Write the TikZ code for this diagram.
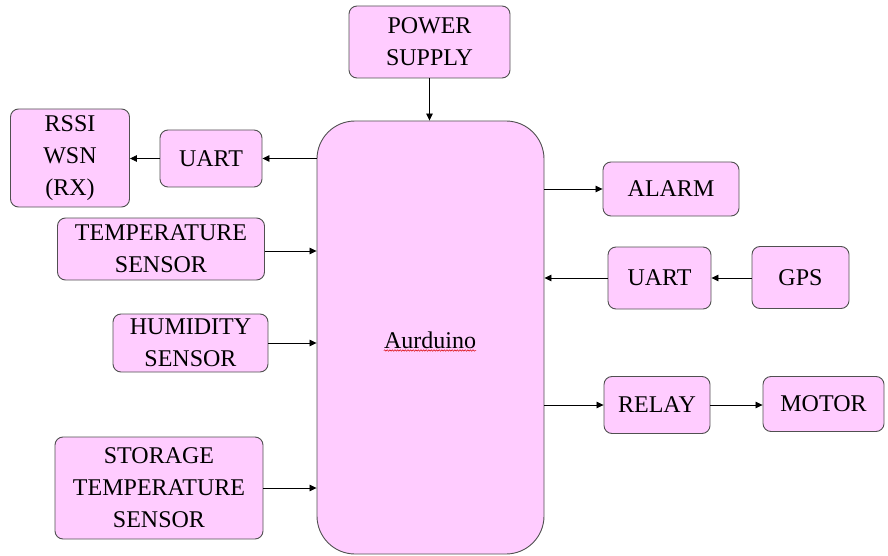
\documentclass[tikz,border=0pt]{standalone}
\usepackage{fontspec}
\setmainfont{Liberation Serif}
\usetikzlibrary{arrows.meta,decorations.pathmorphing}
\definecolor{pinkfill}{RGB}{255,204,255}
\definecolor{bordergray}{RGB}{80,80,80}
\tikzset{
  box/.style={draw=bordergray, fill=pinkfill, rounded corners=8pt, line width=0.9pt,
    align=center, inner sep=0pt, font=\fontsize{24}{32}\selectfont},
  arr/.style={draw=black, line width=0.8pt, -{Triangle[length=7pt,width=6.5pt]}},
}
\begin{document}
\begin{tikzpicture}[x=1pt,y=-1pt]
\useasboundingbox (0,0) rectangle (888,556);
% main block
\node[box, rounded corners=38pt, minimum width=227pt, minimum height=433pt] (ard) at (430.5,337.5) {};
\node[font=\fontsize{24}{32}\selectfont, anchor=base, inner sep=0pt] (ardtxt) at (430,348) {Aurduino};
\draw[red!85!black, line width=0.5pt, decorate, decoration={snake, amplitude=0.7pt, segment length=2.6pt}]
  ([yshift=-2.5pt]ardtxt.base west) -- ([yshift=-2.5pt]ardtxt.base east);
% top
\node[box, minimum width=161pt, minimum height=72pt] (power) at (429.5,42) {POWER\\SUPPLY};
% left
\node[box, minimum width=119pt, minimum height=98pt] (rssi) at (70,158) {RSSI\\WSN\\(RX)};
\node[box, minimum width=102pt, minimum height=57pt] (uartl) at (211,158.5) {UART};
\node[box, minimum width=207pt, minimum height=62pt] (temp) at (161,249) {TEMPERATURE\\SENSOR};
\node[box, minimum width=155pt, minimum height=58pt] (hum) at (190.5,343) {HUMIDITY\\SENSOR};
\node[box, minimum width=208pt, minimum height=102pt] (stor) at (159,488) {STORAGE\\TEMPERATURE\\SENSOR};
% right
\node[box, minimum width=136pt, minimum height=54pt] (alarm) at (671,189) {ALARM};
\node[box, minimum width=103pt, minimum height=62pt] (uartr) at (659.5,278) {UART};
\node[box, minimum width=97pt, minimum height=62pt] (gps) at (800.5,277.5) {GPS};
\node[box, minimum width=106pt, minimum height=57pt] (relay) at (657,405) {RELAY};
\node[box, minimum width=121pt, minimum height=55pt] (motor) at (823.5,404) {MOTOR};
% connectors
\draw[arr] (power.south) -- (power.south |- ard.north);
\draw[arr] (ard.west |- uartl.east) -- (uartl.east);
\draw[arr] (uartl.west) -- (uartl.west -| rssi.east);
\draw[arr] ([yshift=-2pt]temp.east) -- ([yshift=-2pt]temp.east -| ard.west);
\draw[arr] (hum.east) -- (hum.east -| ard.west);
\draw[arr] (stor.east) -- (stor.east -| ard.west);
\draw[arr] (ard.east |- alarm.west) -- (alarm.west);
\draw[arr] (uartr.west) -- (uartr.west -| ard.east);
\draw[arr] (gps.west |- uartr.east) -- (uartr.east);
\draw[arr] (ard.east |- relay.west) -- (relay.west);
\draw[arr] (relay.east) -- (relay.east -| motor.west);
\end{tikzpicture}
\end{document}
